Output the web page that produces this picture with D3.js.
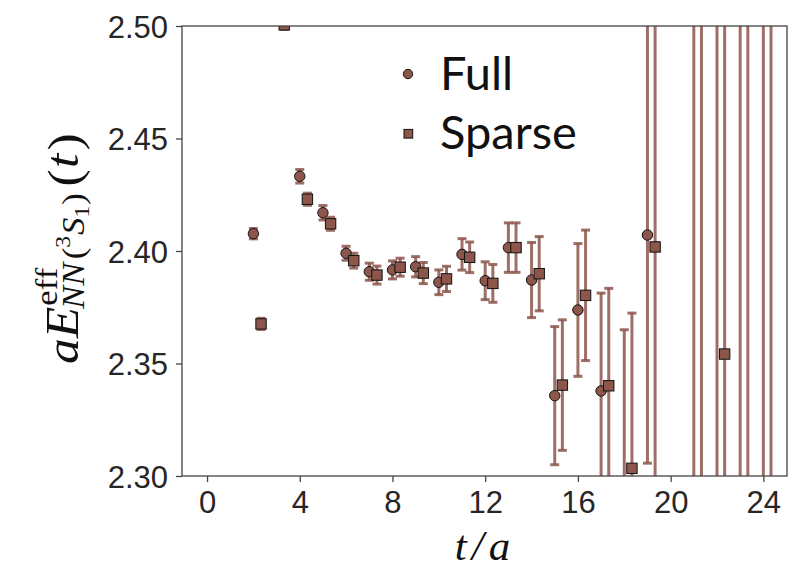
<!DOCTYPE html>
<html>
<head>
<meta charset="utf-8">
<script src="https://cdn.jsdelivr.net/npm/d3@7/dist/d3.min.js"></script>
<style>
  html, body { margin: 0; padding: 0; background: #fff; }
  svg { display: block; }
</style>
</head>
<body>
<svg id="chart" width="799" height="570"></svg>
<script>
// ---------------- data ----------------
const fullT = [2, 3, 4, 5, 6, 7, 8, 9, 10, 11, 12, 13, 14, 15, 16, 17, 18, 19, 21, 22, 23, 24];
const fullE = [2.4077, 2.55, 2.4332, 2.4170, 2.3990, 2.3908, 2.3916, 2.3930, 2.3861, 2.3985, 2.3868, 2.4015, 2.3871, 2.3357, 2.3738, 2.3378, 2.296, 2.4071, 2.62, 2.18, 2.65, 2.20];
const fullErr = [0.0023, 0.005, 0.003, 0.0032, 0.0031, 0.0038, 0.004, 0.0045, 0.0055, 0.007, 0.0084, 0.011, 0.0167, 0.0307, 0.0295, 0.0435, 0.069, 0.1014, 0.45, 0.40, 0.5, 0.5];

const sparseT = [2.33, 3.33, 4.33, 5.33, 6.33, 7.33, 8.33, 9.33, 10.33, 11.33, 12.33, 13.33, 14.33, 15.33, 16.33, 17.33, 18.33, 19.33, 21.33, 22.33, 23.33, 24.33];
const sparseE = [2.3676, 2.5005, 2.4230, 2.4121, 2.3957, 2.3893, 2.3928, 2.3902, 2.3876, 2.3972, 2.3856, 2.4015, 2.3899, 2.3404, 2.3803, 2.3401, 2.3034, 2.4018, 2.14, 2.3542, 2.60, 2.25];
const sparseErr = [0.0025, 0.002, 0.0027, 0.0029, 0.0033, 0.004, 0.004, 0.0047, 0.0056, 0.0068, 0.0084, 0.011, 0.0165, 0.029, 0.029, 0.0433, 0.069, 0.13, 0.45, 0.35, 0.45, 0.5];

const xTicks = [0, 4, 8, 12, 16, 20, 24];
const yTicks = [2.30, 2.35, 2.40, 2.45, 2.50];
const seriesNames = ["Full", "Sparse"];

// ---------------- layout ----------------
const L = 182, R = 787, T = 26, B = 476;
const color = "#8c564b";
const svg = d3.select("#chart");

const x = d3.scaleLinear().domain([-1.08, 25.02]).range([L, R]);
const y = d3.scaleLinear().domain([2.30, 2.50]).range([B, T]);

svg.append("defs").append("clipPath").attr("id", "plotclip")
  .append("rect").attr("x", L).attr("y", T).attr("width", R - L).attr("height", B - T);

const plot = svg.append("g").attr("clip-path", "url(#plotclip)");

function series(ts, vs, es) {
  return ts.map((t, i) => ({ t: t, v: vs[i], e: es[i] }));
}
const full = series(fullT, fullE, fullErr);
const sparse = series(sparseT, sparseE, sparseErr);

function drawErr(data) {
  const g = plot.append("g").attr("stroke", color).attr("stroke-opacity", 0.85).attr("stroke-width", 3);
  g.selectAll("line.bar").data(data).join("line").attr("class", "bar")
    .attr("x1", d => x(d.t)).attr("x2", d => x(d.t))
    .attr("y1", d => y(d.v - d.e)).attr("y2", d => y(d.v + d.e));
  const caps = data.flatMap(d => [d.v - d.e, d.v + d.e].map(c => ({ t: d.t, c: c })));
  g.selectAll("line.cap").data(caps).join("line").attr("class", "cap")
    .attr("x1", d => x(d.t) - 4.5).attr("x2", d => x(d.t) + 4.5)
    .attr("y1", d => y(d.c)).attr("y2", d => y(d.c));
}
drawErr(full);
drawErr(sparse);

plot.append("g").selectAll("circle").data(full).join("circle")
  .attr("cx", d => x(d.t)).attr("cy", d => y(d.v)).attr("r", 5.2)
  .attr("fill", color).attr("stroke", "#111").attr("stroke-width", 1);

plot.append("g").selectAll("rect").data(sparse).join("rect")
  .attr("x", d => x(d.t) - 5.2).attr("y", d => y(d.v) - 5.2)
  .attr("width", 10.4).attr("height", 10.4)
  .attr("fill", color).attr("stroke", "#111").attr("stroke-width", 1);

// ---------------- frame & axes ----------------
svg.append("rect").attr("x", L).attr("y", T).attr("width", R - L).attr("height", B - T)
  .attr("fill", "none").attr("stroke", "#444").attr("stroke-width", 1.3);

const tickFont = "'Liberation Sans', Arial, sans-serif";
const xAxis = svg.append("g").attr("transform", `translate(0,${B})`)
  .call(d3.axisBottom(x).tickValues(xTicks).tickSize(6).tickPadding(8).tickFormat(d3.format("d")));
const yAxis = svg.append("g").attr("transform", `translate(${L},0)`)
  .call(d3.axisLeft(y).tickValues(yTicks).tickSize(6).tickPadding(8).tickFormat(d3.format(".2f")));
[xAxis, yAxis].forEach(a => {
  a.select(".domain").remove();
  a.selectAll(".tick line").attr("stroke", "#444").attr("stroke-width", 1.3);
  a.selectAll(".tick text").attr("fill", "#262626").style("font-family", tickFont).style("font-size", "31px");
});
yAxis.selectAll(".tick text").attr("dy", "0.36em");
xAxis.selectAll(".tick text").attr("dy", "0.74em");

// ---------------- legend ----------------
const leg = svg.append("g");
leg.append("circle").attr("cx", 408).attr("cy", 74).attr("r", 4.7)
  .attr("fill", color).attr("stroke", "#111").attr("stroke-width", 1);
leg.append("rect").attr("x", 404).attr("y", 129.4).attr("width", 8.7).attr("height", 8.7)
  .attr("fill", color).attr("stroke", "#111").attr("stroke-width", 1);
leg.selectAll("text").data(seriesNames).join("text")
  .attr("x", 440).attr("y", (d, i) => 90 + i * 59)
  .style("font-family", "Lato, 'Open Sans', sans-serif").style("font-size", "47px")
  .attr("fill", "#111").text(d => d);

// ---------------- axis labels ----------------
const serif = "'Liberation Serif', 'DejaVu Serif', serif";
svg.append("text").attr("x", 485).attr("y", 560).attr("text-anchor", "middle")
  .style("font-family", serif).style("font-size", "43px").style("font-style", "italic")
  .attr("fill", "#111").attr("letter-spacing", "5px").text("t/a");

// y label built from pieces in a rotated group
const yl = svg.append("g").attr("transform", "translate(78,364) rotate(-90) scale(1.12,1)");
const pieces = [
  { s: "a", size: 46, it: true, dy: 0 },
  { s: "E", size: 46, it: true, dy: 0 },
  { s: "eff", size: 31, it: false, dy: -21, stack: true, gap: 1 },
  { s: "NN", size: 31, it: true, dy: 6, back: 3 },
  { s: "(", size: 31, it: false, dy: 6, gap: 3 },
  { s: "3", size: 21, it: false, dy: -8 },
  { s: "S", size: 31, it: true, dy: 6, gap: 1 },
  { s: "1", size: 21, it: false, dy: 11 },
  { s: ")", size: 31, it: false, dy: 6, gap: 1 },
  { s: "(", size: 46, it: false, dy: 2, gap: 6 },
  { s: "t", size: 46, it: true, dy: 0, gap: 1 },
  { s: ")", size: 46, it: false, dy: 2, gap: 3 }
];
let cx = 0, stackX = 0, stackW = 0;
pieces.forEach(p => {
  if (p.gap) cx += p.gap;
  let px = cx;
  if (p.back !== undefined && stackW) px = stackX - p.back;
  const t = yl.append("text").attr("x", px).attr("y", p.dy)
    .style("font-family", serif).style("font-size", p.size + "px")
    .style("font-style", p.it ? "italic" : "normal").attr("fill", "#111").text(p.s);
  const w = t.node().getComputedTextLength();
  if (p.stack) { stackX = px; stackW = w; }
  else if (p.back !== undefined && stackW) { cx = Math.max(px + w, stackX + stackW); stackW = 0; }
  else cx = px + w;
});
</script>
</body>
</html>
